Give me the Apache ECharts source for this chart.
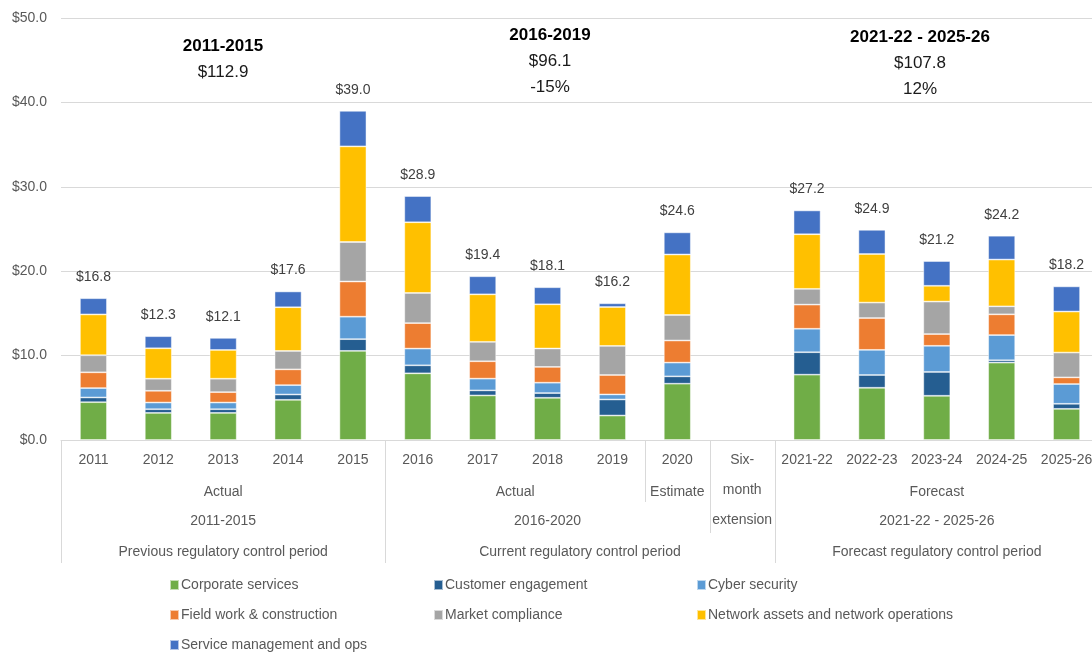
<!DOCTYPE html>
<html>
<head>
<meta charset="utf-8">
<title>Operating expenditure by category</title>
<script src="https://cdn.jsdelivr.net/npm/echarts@6/dist/echarts.min.js"></script>
<style>
  html, body { margin: 0; padding: 0; background: #ffffff; }
  #chart { width: 1092px; height: 653px; }
</style>
</head>
<body>
<div id="chart"></div>
<script>
// ---- Data ($ million per year) ----
const categories = ['2011', '2012', '2013', '2014', '2015', '2016', '2017', '2018', '2019', '2020',
  'Six-month extension', '2021-22', '2022-23', '2023-24', '2024-25', '2025-26'];

const corporateServices   = [4.48, 3.21, 3.21, 4.76, 10.56, 7.90, 5.28, 5.00, 2.90, 6.67, null, 7.74, 6.19, 5.24, 9.17, 3.69];
const customerEngagement  = [0.56, 0.44, 0.44, 0.63, 1.39, 0.95, 0.60, 0.56, 1.90, 0.87, null, 2.66, 1.51, 2.82, 0.28, 0.60];
const cyberSecurity       = [1.11, 0.79, 0.79, 1.11, 2.66, 1.98, 1.39, 1.23, 0.60, 1.63, null, 2.78, 2.98, 3.10, 2.98, 2.34];
const fieldWork           = [1.87, 1.39, 1.23, 1.87, 4.17, 3.02, 2.06, 1.87, 2.30, 2.62, null, 2.86, 3.77, 1.39, 2.46, 0.79];
const marketCompliance    = [2.02, 1.43, 1.59, 2.18, 4.68, 3.57, 2.30, 2.18, 3.45, 3.02, null, 1.87, 1.83, 3.85, 0.95, 2.94];
const networkAssets       = [4.84, 3.61, 3.41, 5.18, 11.33, 8.38, 5.63, 5.24, 4.61, 7.17, null, 6.47, 5.76, 1.87, 5.54, 4.86];
const serviceManagement   = [1.92, 1.43, 1.43, 1.87, 4.21, 3.10, 2.14, 2.02, 0.44, 2.62, null, 2.82, 2.86, 2.93, 2.82, 2.98];

const yTickValues = [0, 10, 20, 30, 40, 50];

// Category groupings shown beneath the year labels: [text, first index, last index]
const stageGroups   = [['Actual', 0, 4], ['Actual', 5, 8], ['Estimate', 9, 9], ['Forecast', 11, 15]];
const periodGroups  = [['2011-2015', 0, 4], ['2016-2020', 5, 9], ['2021-22 - 2025-26', 11, 15]];
const controlGroups = [['Previous regulatory control period', 0, 4],
                       ['Current regulatory control period', 5, 10],
                       ['Forecast regulatory control period', 11, 15]];

// Group separators: [boundary index (left edge of that category), number of label rows crossed]
const separators = [[0, 4], [5, 4], [9, 2], [10, 3], [11, 4], [16, 4]];

// Period summary notes above the bars
const periodNotes = [
  ['2011-2015', ['$112.9']],
  ['2016-2019', ['$96.1', '-15%']],
  ['2021-22 - 2025-26', ['$107.8', '12%']]
];

// ---- Presentation ----
const FONT = '"Liberation Sans", Arial, sans-serif';
const AXIS_TEXT = '#595959';
const GRID_LINE = '#d9d9d9';

const seriesDefs = [
  ['Corporate services', corporateServices, '#70AD47'],
  ['Customer engagement', customerEngagement, '#255E91'],
  ['Cyber security', cyberSecurity, '#5B9BD5'],
  ['Field work & construction', fieldWork, '#ED7D31'],
  ['Market compliance', marketCompliance, '#A5A5A5'],
  ['Network assets and network operations', networkAssets, '#FFC000'],
  ['Service management and ops', serviceManagement, '#4472C4']
];

function stackTotal(i) {
  let s = 0;
  seriesDefs.forEach(d => { if (d[1][i] != null) s += d[1][i]; });
  return s;
}

const chart = echarts.init(document.getElementById('chart'), null, { renderer: 'canvas' });

const legendCommon = {
  orient: 'vertical',
  top: 578,
  padding: 0,
  icon: 'rect',
  itemWidth: 9,
  itemHeight: 10,
  itemGap: 16,
  selectedMode: false,
  textStyle: { fontSize: 14, color: AXIS_TEXT, fontFamily: FONT, lineHeight: 14, padding: [0, 0, 0, -3] }
};

chart.setOption({
  animation: false,
  textStyle: { fontFamily: FONT },
  grid: { left: 61, right: -7, top: 18, bottom: 213, containLabel: false, outerBoundsMode: 'none' },
  legend: [
    Object.assign({ left: 169, data: ['Corporate services', 'Field work & construction', 'Service management and ops'] }, legendCommon),
    Object.assign({ left: 433, data: ['Customer engagement', 'Market compliance'] }, legendCommon),
    Object.assign({ left: 696, data: ['Cyber security', 'Network assets and network operations'] }, legendCommon)
  ],
  xAxis: {
    type: 'category',
    data: categories,
    axisLine: { show: true, lineStyle: { color: GRID_LINE, width: 1 } },
    axisTick: { show: false },
    axisLabel: {
      interval: 0,
      margin: 5,
      color: AXIS_TEXT,
      fontSize: 14,
      fontFamily: FONT,
      lineHeight: 30,
      formatter: v => v === 'Six-month extension' ? 'Six-\nmonth\nextension' : v
    }
  },
  yAxis: {
    type: 'value',
    min: yTickValues[0],
    max: yTickValues[yTickValues.length - 1],
    interval: yTickValues[1] - yTickValues[0],
    axisLine: { show: false },
    axisTick: { show: false },
    splitLine: { lineStyle: { color: GRID_LINE, width: 1 } },
    axisLabel: {
      margin: 14,
      color: AXIS_TEXT,
      fontSize: 14,
      fontFamily: FONT,
      formatter: v => '$' + v.toFixed(1)
    }
  },
  series: seriesDefs.map(([name, data, color], idx) => ({
    name,
    type: 'bar',
    stack: 'total',
    data,
    barWidth: 27,
    itemStyle: { color, borderColor: 'rgba(255,255,255,0.6)', borderWidth: 0.8 },
    emphasis: { disabled: true },
    label: idx === seriesDefs.length - 1 ? {
      show: true,
      position: 'top',
      distance: 14,
      color: '#404040',
      fontSize: 14,
      fontFamily: FONT,
      formatter: p => {
        const s = stackTotal(p.dataIndex);
        return s > 0 ? '$' + s.toFixed(1) : '';
      }
    } : { show: false }
  }))
});

// Multi-level category labels, separators and period notes, placed from the axis scale
function buildOverlay() {
  const c0 = chart.convertToPixel({ xAxisIndex: 0 }, 0);
  const c1 = chart.convertToPixel({ xAxisIndex: 0 }, 1);
  const step = c1 - c0;
  const edge = i => c0 - step / 2 + i * step;
  const baseY = chart.convertToPixel({ yAxisIndex: 0 }, 0);
  const rowBottoms = [baseY + 32, baseY + 62, baseY + 93, baseY + 123];
  const rowCenters = [baseY + 20, baseY + 52, baseY + 81, baseY + 112];

  const elements = [];

  separators.forEach(([b, rows]) => {
    const x = Math.round(edge(b)) + 0.5;
    elements.push({
      type: 'line',
      silent: true,
      shape: { x1: x, y1: baseY, x2: x, y2: rowBottoms[rows - 1] },
      style: { stroke: GRID_LINE, lineWidth: 1 }
    });
  });

  const addRow = (groups, row) => {
    groups.forEach(([text, a, b]) => {
      elements.push({
        type: 'text',
        silent: true,
        style: {
          text,
          x: (edge(a) + edge(b + 1)) / 2,
          y: rowCenters[row],
          align: 'center',
          verticalAlign: 'middle',
          fill: AXIS_TEXT,
          fontSize: 14,
          fontFamily: FONT
        }
      });
    });
  };
  addRow(stageGroups, 1);
  addRow(periodGroups, 2);
  addRow(controlGroups, 3);

  // Summary notes over each regulatory period
  const noteAnchors = [[223, 46], [550, 35], [920, 37]];
  periodNotes.forEach(([title, lines], k) => {
    const [x, y] = noteAnchors[k];
    elements.push({
      type: 'text', silent: true,
      style: { text: title, x, y, align: 'center', verticalAlign: 'middle',
               fill: '#000000', fontSize: 17, fontWeight: 'bold', fontFamily: FONT }
    });
    lines.forEach((t, j) => {
      elements.push({
        type: 'text', silent: true,
        style: { text: t, x, y: y + 26 * (j + 1), align: 'center', verticalAlign: 'middle',
                 fill: '#1a1a1a', fontSize: 17, fontFamily: FONT }
      });
    });
  });

  chart.setOption({ graphic: { elements } });
}

buildOverlay();
</script>
</body>
</html>
